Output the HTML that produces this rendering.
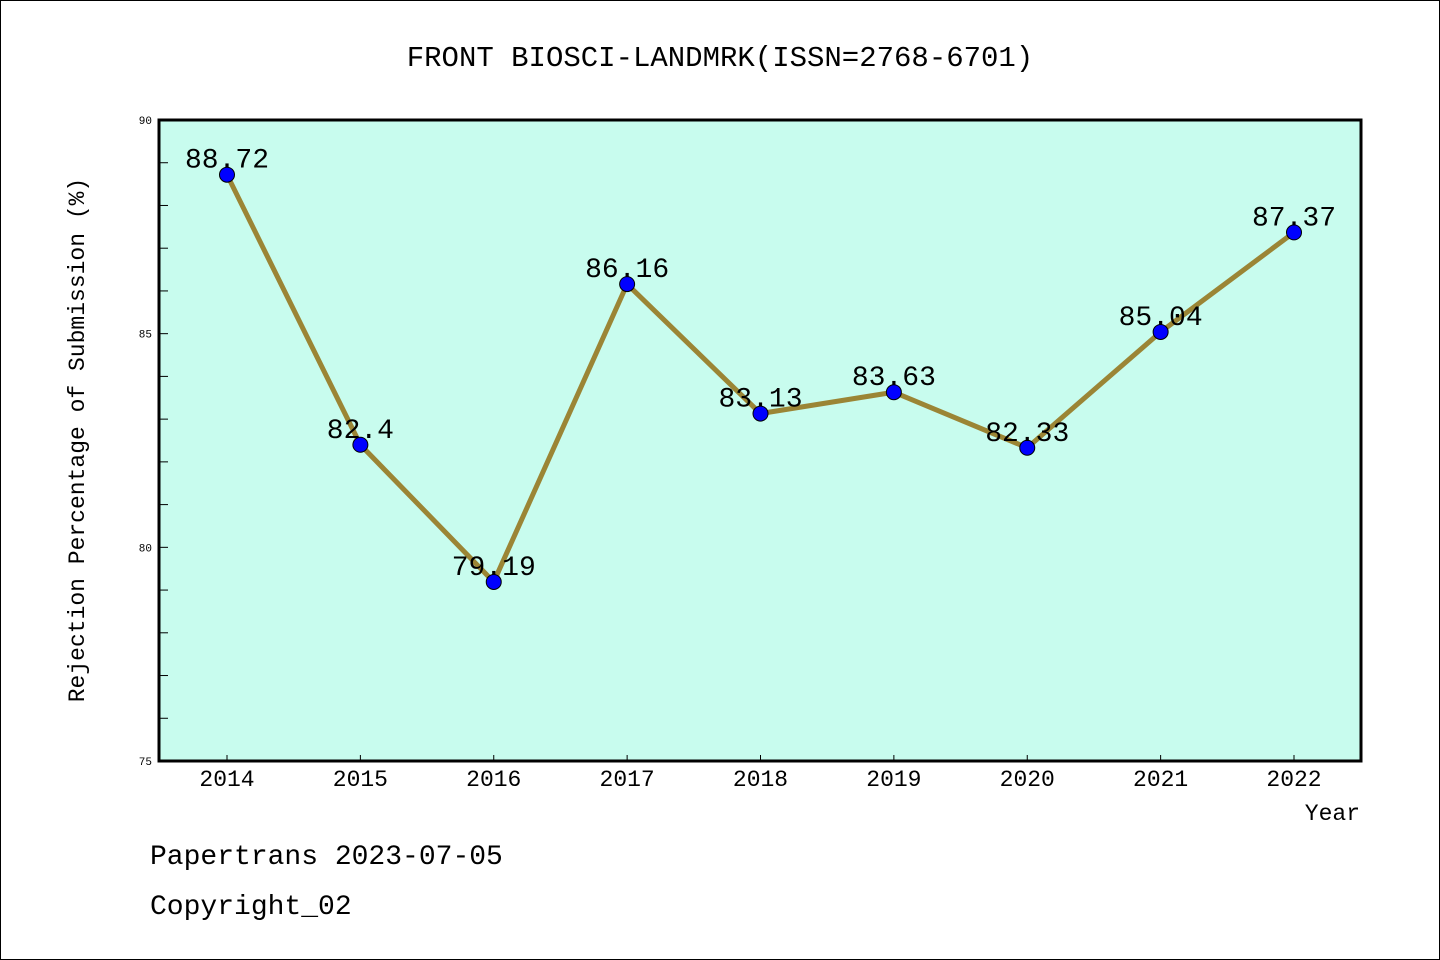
<!DOCTYPE html>
<html><head><meta charset="utf-8"><style>
body{margin:0;background:#fff;}
svg{display:block;font-family:"Liberation Mono","WenQuanYi Zen Hei",monospace;}
</style></head><body>
<svg width="1440" height="960" viewBox="0 0 1440 960">
<rect x="0.5" y="0.5" width="1439" height="959" fill="#fff" stroke="#000" stroke-width="1"/>
<text x="720" y="66" text-anchor="middle" font-size="29">FRONT BIOSCI-LANDMRK(ISSN=2768-6701)</text>
<rect x="159" y="120" width="1202" height="641" fill="#c8fcee"/>
<g id="ticks"></g>
<g id="series"></g>
<rect x="159" y="120" width="1202" height="641" fill="none" stroke="#000" stroke-width="3"/>
<text transform="translate(84,440) rotate(-90)" text-anchor="middle" font-size="23">Rejection Percentage of Submission (%)</text>
<text x="1360" y="820" text-anchor="end" font-size="23">Year</text>
<text x="150" y="864" font-size="28">Papertrans 2023-07-05</text>
<text x="150" y="914" font-size="28">Copyright_02</text>
<script>
const years=[2014,2015,2016,2017,2018,2019,2020,2021,2022];
const values=[88.72,82.4,79.19,86.16,83.13,83.63,82.33,85.04,87.37];
const labels=["88.72","82.4","79.19","86.16","83.13","83.63","82.33","85.04","87.37"];
const yTicks=[75,80,85,90];
const NS="http://www.w3.org/2000/svg";
const x=y=>227+(y-2014)*133.375;
const yS=v=>761-(v-75)*(641/15);
function mk(tag,attrs,parent){const e=document.createElementNS(NS,tag);for(const k in attrs)e.setAttribute(k,attrs[k]);parent.appendChild(e);return e;}
const tg=document.getElementById('ticks'), sg=document.getElementById('series');
for(let v=75;v<=90;v++){
  const l=mk('line',{x1:159,x2:168,y1:yS(v),y2:yS(v),stroke:'#000','stroke-width':1},tg);
  
  
}
yTicks.forEach(v=>{
  const t=mk('text',{x:152,y:yS(v)+4,'text-anchor':'end','font-size':11},tg);
  t.textContent=v;
  
  
});
years.forEach(yr=>{
  const l=mk('line',{x1:x(yr),x2:x(yr),y1:761,y2:755,stroke:'#000','stroke-width':1},tg);
  
  
  const t=mk('text',{x:x(yr),y:786,'text-anchor':'middle','font-size':23},tg);
  t.textContent=yr;
  
  
});
const pl=mk('polyline',{points:years.map((yr,i)=>x(yr)+','+yS(values[i])).join(' '),fill:'none',stroke:'#9b8535','stroke-width':5},sg);


years.forEach((yr,i)=>{
  const c=mk('circle',{cx:x(yr),cy:yS(values[i]),r:7.5,fill:'#0000ff',stroke:'#000','stroke-width':1},sg);
  
  
  const t=mk('text',{x:x(yr),y:yS(values[i])-7,'text-anchor':'middle','font-size':28},sg);
  t.textContent=labels[i];
  
  
});
</script>
</svg>
</body></html>
